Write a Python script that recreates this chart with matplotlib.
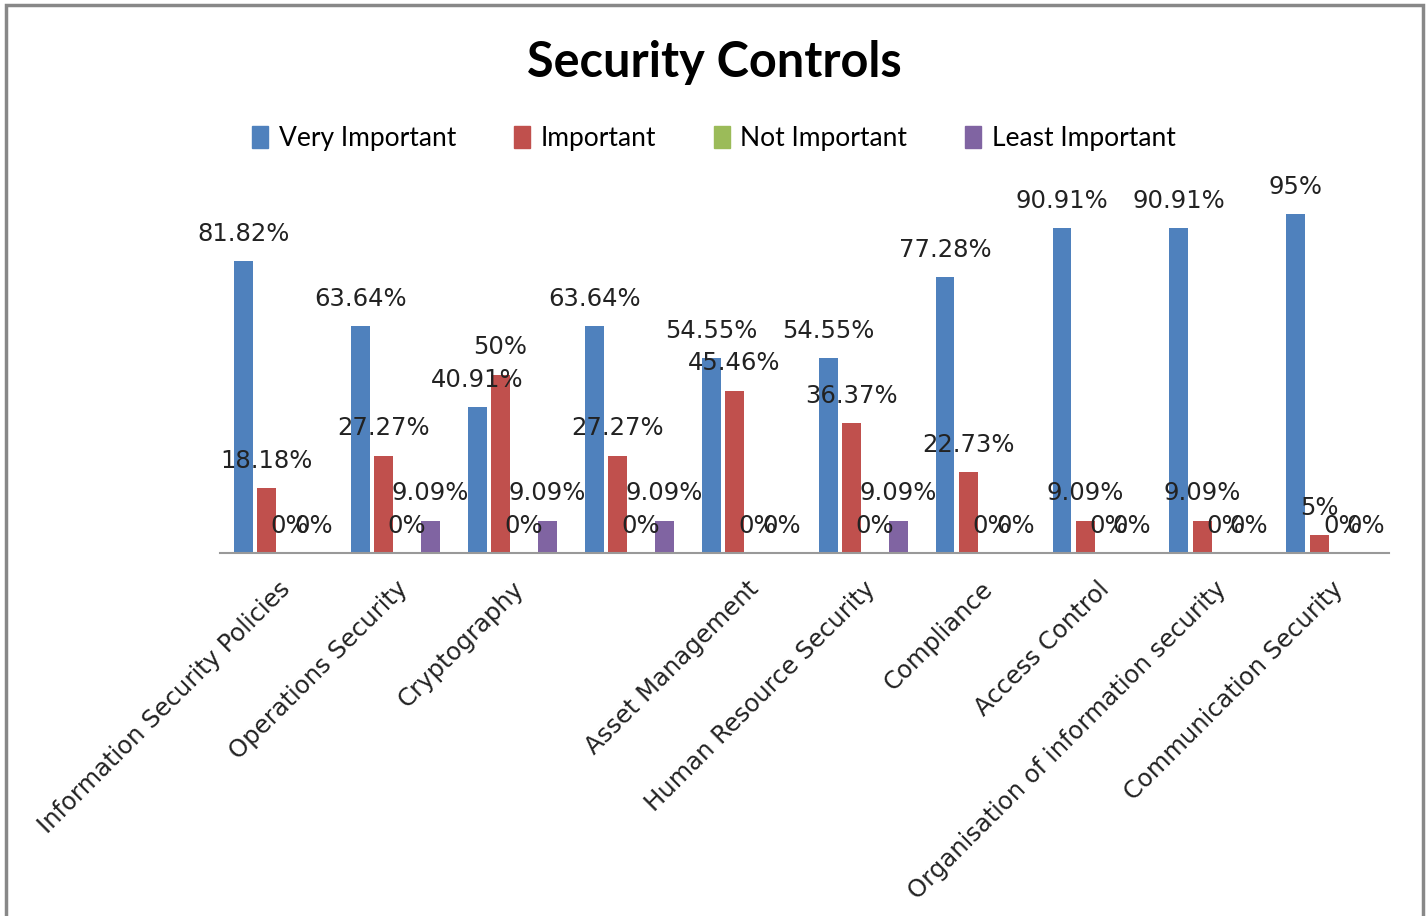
import numpy as np
import matplotlib
matplotlib.use('Agg')
import matplotlib.pyplot as plt
from matplotlib.patches import Rectangle

categories = ['Information Security Policies', 'Operations Security', 'Cryptography', '',
              'Asset Management', 'Human Resource Security', 'Compliance', 'Access Control',
              'Organisation of information security', 'Communication Security']

series_names = ['Very Important', 'Important', 'Not Important', 'Least Important']
very_important = [81.82, 63.64, 40.91, 63.64, 54.55, 54.55, 77.28, 90.91, 90.91, 95]
important = [18.18, 27.27, 50, 27.27, 45.46, 36.37, 22.73, 9.09, 9.09, 5]
not_important = [0, 0, 0, 0, 0, 0, 0, 0, 0, 0]
least_important = [0, 9.09, 9.09, 9.09, 0, 9.09, 0, 0, 0, 0]

colors = ['#4F81BD', '#C0504D', '#9BBB59', '#8064A2']

fig = plt.figure(figsize=(14.28, 9.16), dpi=100)
ax = fig.add_axes([0.154, 0.3963, 0.819, 0.3897])

x = np.arange(len(categories))
step = 0.2
width = 0.162
all_series = [very_important, important, not_important, least_important]
for i, (vals, name, col) in enumerate(zip(all_series, series_names, colors)):
    pos = x + (i - 1.5) * step
    ax.bar(pos, vals, width, color=col, label=name, zorder=2)
    for px, v in zip(pos, vals):
        txt = '%g%%' % v
        ax.annotate(txt, (px, v), xytext=(0, 11), textcoords='offset points',
                    ha='center', va='bottom', fontsize=17.5, color='#222222')

ax.set_xlim(-0.5, len(categories) - 0.5)
ax.set_ylim(0, 100)
ax.set_yticks([])
for s in ['top', 'right', 'left']:
    ax.spines[s].set_visible(False)
ax.spines['bottom'].set_color('#999999')
ax.spines['bottom'].set_linewidth(1.5)
ax.set_xticks(x)
ax.set_xticklabels(categories, rotation=45, ha='right', rotation_mode='anchor',
                   fontsize=17.5, color='#222222')
ax.tick_params(axis='x', length=0, pad=17)

fig.text(0.5, 0.932, 'Security Controls', ha='center', va='center',
         fontsize=35, fontweight='bold', family='Lato')

handles = [Rectangle((0, 0), 1, 1, color=c) for c in colors]
fig.legend(handles, series_names, loc='center', bbox_to_anchor=(0.5, 0.849), ncol=4,
           frameon=False, handlelength=0.6, handleheight=0.9,
           handletextpad=0.4, columnspacing=2.2, prop={'family': 'Lato', 'size': 19})

fig.patches.append(Rectangle((6 / 1428, -0.01), 1417 / 1428, 1 - 5 / 916 + 0.01,
                             transform=fig.transFigure, fill=False,
                             edgecolor='#888888', linewidth=2.5))

fig.savefig('out.png', dpi=100)
